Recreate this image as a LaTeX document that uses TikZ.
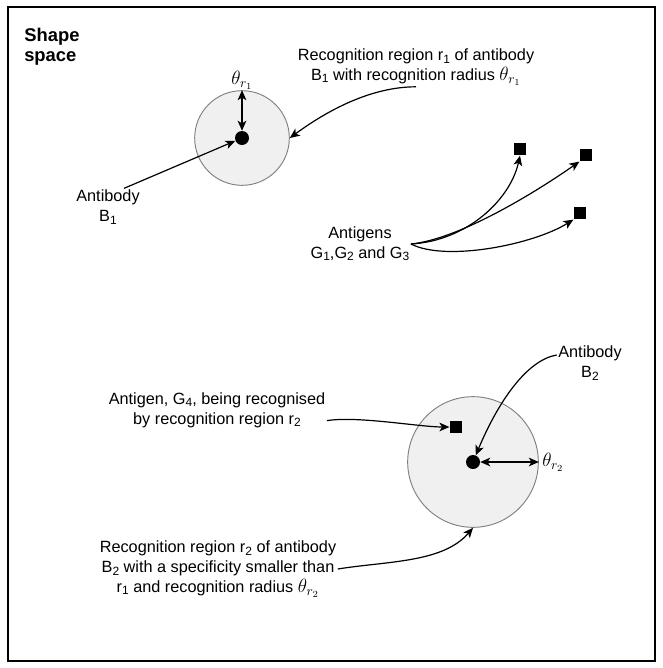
\documentclass[tikz,border=0pt]{standalone}
\usepackage{fontspec}
\setmainfont{Liberation Sans}
\usetikzlibrary{arrows.meta}
% lowered index in running text, a little larger than \textsubscript
\newcommand{\idx}[1]{\raisebox{-0.3ex}{\fontsize{9}{10}\selectfont #1}}
\begin{document}
\begin{tikzpicture}[x=0.75pt,y=-0.75pt,
  lbl/.style={align=center,font=\fontsize{12.2}{14.8}\selectfont,inner sep=1pt},
  greek/.style={inner sep=0.5pt,font=\fontsize{14}{16}\selectfont},
  region/.style={circle,draw=black!50,fill=black!6,line width=0.7pt,inner sep=0pt},
  cell/.style={circle,fill=black,inner sep=0pt,minimum size=10.5pt},
  antigen/.style={rectangle,fill=black,inner sep=0pt,minimum size=9.5pt},
  pointer/.style={line width=0.9pt,-{Stealth[length=7.5pt,width=6.5pt,inset=2pt]}},
  span/.style={line width=0.9pt,{Stealth[length=7.5pt,width=6.5pt,inset=2pt]}-{Stealth[length=7.5pt,width=6.5pt,inset=2pt]}},
]
\useasboundingbox (0,0) rectangle (663,668);
% outer frame of the shape space
\draw[line width=1.6pt] (8,7) rectangle (655,661);
\node[anchor=north west,align=left,inner sep=0pt,
      font=\fontsize{13.8}{15.2}\selectfont\bfseries] (title) at (24,28) {Shape\\space};

% antibody B1 and its recognition region
\node[region,minimum size=71pt] (r1) at (242,138) {};
\node[cell] (b1) at (242,138) {};
\node[greek,anchor=south] (tr1) at (r1.north) {$\theta_{r_1}$};
\draw[span] (b1) -- (r1.north);

% antigens G1, G2, G3
\node[antigen] (g1) at (520,149) {};
\node[antigen] (g2) at (586,155) {};
\node[antigen] (g3) at (580,213) {};

% antibody B2, its recognition region and antigen G4
\node[region,minimum size=98pt] (r2) at (473,462) {};
\node[cell] (b2) at (473,462) {};
\node[antigen] (g4) at (456,427) {};
\node[greek,anchor=west] (tr2) at ([xshift=2pt]r2.east) {$\theta_{r_2}$};
\draw[span] (b2) -- (r2.east);

% labels
\node[lbl] (lr1) at (416,67) {Recognition region r\idx{1} of antibody\\B\idx{1} with recognition radius {\fontsize{14}{16}\selectfont$\theta_{r_1}$}};
\node[lbl] (lb1) at (108,207) {Antibody\\B\idx{1}};
\node[lbl] (lag) at (360,244) {Antigens\\G\idx{1},G\idx{2} and G\idx{3}};
\node[lbl] (lb2) at (590,363) {Antibody\\B\idx{2}};
\node[lbl] (lg4) at (217,410) {Antigen, G\idx{4}, being recognised\\by recognition region r\idx{2}};
\node[lbl] (lr2) at (218,569) {Recognition region r\idx{2} of antibody\\B\idx{2} with a specificity smaller than\\r\idx{1} and recognition radius {\fontsize{14}{16}\selectfont$\theta_{r_2}$}};

% connectors
\draw[pointer] (lr1.south) .. controls +(-50,0) and +(30,-22) .. (r1.east);
\draw[pointer] ([xshift=12pt]lb1.north) -- (b1);
\draw[pointer] (lag.east) .. controls +(55,-3) and +(-10,45) .. (g1.south);
\draw[pointer] (lag.east) .. controls +(50,-5) and +(-40,28) .. (g2.south west);
\draw[pointer] (lag.east) .. controls +(35,18) and +(-40,25) .. (g3.south west);
\draw[pointer] ([yshift=6pt]lb2.west) .. controls +(-30,5) and +(25,-60) .. (b2);
\draw[pointer] ([yshift=-8pt]lg4.east) .. controls +(30,-5) and +(-30,0) .. (g4.west);
\draw[pointer] (lr2.east) .. controls +(50,-8) and +(-30,35) .. (r2.south);
\end{tikzpicture}
\end{document}
